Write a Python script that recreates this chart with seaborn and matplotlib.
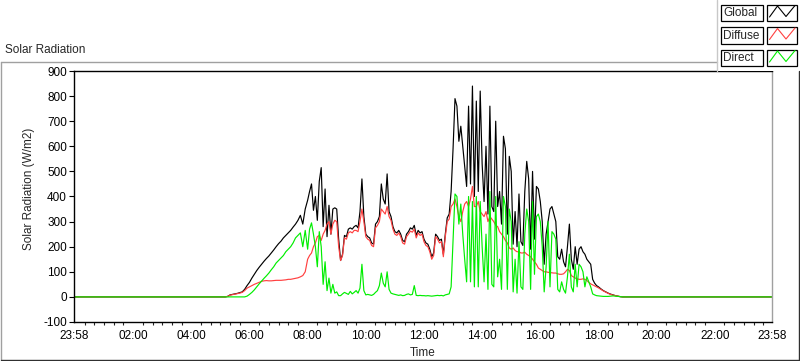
import numpy as np
import pandas as pd
import matplotlib
matplotlib.use('Agg')
import matplotlib.pyplot as plt
from matplotlib.patches import Rectangle
from matplotlib.lines import Line2D
import seaborn as sns

# time grid (minutes of day): 5-min in the morning, 4-min over the day, 5-min in the evening
t_morning = list(range(300, 480, 5))      # 05:00 .. 07:55
t_day = list(range(480, 1080, 4))         # 08:00 .. 17:56
t_evening = list(range(1080, 1141, 5))    # 18:00 .. 19:00

global_morning = [0, 0, 0, 2, 8, 10, 12, 14, 17, 20, 30, 45,
                  58, 75, 90, 105, 118, 130, 142, 153, 163, 175, 187, 200,
                  212, 222, 235, 245, 255, 265, 278, 290, 305, 325, 290, 350]
diffuse_morning = [0, 0, 0, 2, 7, 9, 11, 13, 15, 18, 25, 35,
                   40, 45, 50, 54, 58, 62, 64, 65, 64, 64, 65, 66,
                   66, 66, 67, 68, 70, 70, 72, 74, 76, 80, 85, 100]
direct_morning = [0, 0, 0, 0, 0, 0, 0, 0, 0, 0, 0, 3,
                  10, 18, 28, 40, 52, 63, 74, 84, 95, 108, 120, 135,
                  145, 155, 165, 180, 190, 200, 215, 235, 245, 255, 200, 265]

global_day = [
    385, 420, 450, 345, 400, 305, 460, 515, 280, 430, 240, 365, 250, 350, 355,   # 08
    350, 230, 145, 170, 245, 240, 270, 275, 270, 280, 285, 275, 340, 470, 320,   # 09
    250, 240, 235, 215, 210, 290, 300, 320, 450, 390, 370, 490, 340, 320, 280,   # 10
    260, 255, 265, 250, 225, 220, 250, 260, 275, 270, 285, 245, 265, 255, 260,   # 11
    230, 215, 210, 190, 160, 175, 250, 240, 225, 230, 170, 250, 315, 330, 420,   # 12
    590, 790, 760, 620, 680, 600, 520, 440, 760, 450, 840, 400, 780, 420, 820,   # 13
    530, 380, 600, 330, 760, 360, 340, 700, 360, 420, 290, 640, 590, 250, 560,   # 14
    500, 210, 340, 200, 410, 220, 205, 420, 540, 470, 190, 500, 230, 440, 430,   # 15
    380, 300, 130, 250, 300, 350, 360, 330, 300, 160, 150, 190, 140, 120, 200,   # 16
    290, 150, 110, 200, 130, 190, 200, 180, 170, 150, 140, 130, 70, 55, 45]      # 17
diffuse_day = [
    150, 165, 175, 200, 215, 240, 245, 225, 250, 265, 290, 300, 250, 290, 305,
    300, 200, 145, 165, 235, 230, 255, 260, 255, 265, 265, 260, 300, 350, 300,
    240, 230, 225, 205, 200, 275, 285, 300, 350, 340, 330, 360, 320, 305, 270,
    250, 245, 255, 240, 215, 210, 240, 250, 262, 258, 270, 235, 255, 245, 250,
    220, 205, 200, 180, 150, 165, 240, 230, 215, 220, 160, 240, 300, 310, 360,
    370, 390, 360, 320, 300, 340, 370, 380, 360, 390, 440, 360, 360, 380, 340,
    330, 320, 340, 300, 320, 310, 300, 285, 280, 260, 250, 240, 225, 215, 195,
    190, 195, 185, 180, 180, 175, 175, 178, 170, 165, 160, 150, 140, 130, 115,
    110, 105, 100, 100, 98, 97, 96, 95, 95, 92, 90, 90, 92, 100, 110,
    105, 85, 80, 75, 72, 70, 70, 72, 70, 65, 58, 52, 48, 44, 40]
direct_day = [
    190, 270, 295, 250, 200, 120, 260, 200, 50, 140, 25, 75, 15, 50, 15,
    20, 5, 5, 12, 18, 14, 10, 22, 12, 18, 25, 15, 35, 130, 25,
    8, 10, 8, 6, 10, 18, 25, 45, 95, 55, 40, 100, 30, 15, 12,
    10, 8, 6, 8, 5, 6, 10, 12, 8, 10, 45, 6, 5, 6, 5,
    5, 4, 5, 4, 3, 4, 5, 6, 5, 6, 4, 8, 10, 12, 40,
    220, 410, 400, 290, 370, 250, 150, 60, 400, 60, 380, 40, 400, 40, 380,
    200, 60, 250, 30, 420, 50, 40, 400, 80, 150, 30, 400, 360, 30, 350,
    300, 20, 150, 15, 220, 40, 30, 250, 350, 300, 30, 380, 90, 320, 330,
    300, 200, 20, 120, 300, 40, 260, 250, 230, 30, 20, 60, 30, 15, 80,
    170, 40, 20, 130, 40, 130, 120, 100, 40, 80, 60, 40, 12, 8, 5]

global_evening = [40, 32, 25, 20, 15, 11, 8, 5, 3, 1, 0, 0, 0]
diffuse_evening = [36, 30, 24, 19, 14, 10, 7, 5, 3, 1, 0, 0, 0]
direct_evening = [4, 3, 2, 2, 2, 3, 4, 3, 2, 1, 0, 0, 0]

series_names = ['Global', 'Diffuse', 'Direct']
series_colors = ['#000000', '#ff4040', '#00ee00']

x_ticks = [-2, 120, 240, 360, 480, 600, 720, 840, 960, 1080, 1200, 1320, 1438]
x_tick_labels = ['23:58', '02:00', '04:00', '06:00', '08:00', '10:00', '12:00',
                 '14:00', '16:00', '18:00', '20:00', '22:00', '23:58']
y_ticks = [-100, 0, 100, 200, 300, 400, 500, 600, 700, 800, 900]

# night is zero from 23:58 to 23:58
minutes = [-2] + t_morning + t_day + t_evening + [1438]
values = {
    'Global': [0] + global_morning + global_day + global_evening + [0],
    'Diffuse': [0] + diffuse_morning + diffuse_day + diffuse_evening + [0],
    'Direct': [0] + direct_morning + direct_day + direct_evening + [0],
}
df = pd.concat([pd.DataFrame({'minute': minutes, 'value': values[s], 'series': s})
                for s in series_names], ignore_index=True)

sns.set_style('white')
plt.rcParams['font.family'] = ['Liberation Sans', 'DejaVu Sans']
plt.rcParams['font.size'] = 8

W, H = 800, 361
fig = plt.figure(figsize=(W / 100, H / 100), dpi=100)
ax = fig.add_axes([74 / W, 1 - 322 / H, 698 / W, 251 / H], zorder=1)

sns.lineplot(data=df, x='minute', y='value', hue='series', hue_order=series_names,
             palette=series_colors, linewidth=0.85, legend=False, errorbar=None,
             sort=False, ax=ax)

ax.set_xlim(-2, 1438)
ax.set_ylim(-100, 900)
ax.set_xticks(x_ticks)
ax.set_xticklabels(x_tick_labels)
minor = [m for m in range(20, 1438, 20) if m % 120 != 0]
ax.set_xticks(minor, minor=True)
ax.set_yticks(y_ticks)
ax.set_yticklabels([str(v) for v in y_ticks])
ax.tick_params(axis='x', which='major', direction='out', length=4, width=0.8,
               pad=2, labelsize=8.5, colors='black')
ax.tick_params(axis='x', which='minor', direction='out', length=2.5, width=0.8,
               bottom=True)
ax.tick_params(axis='y', direction='out', length=3.5, width=0.8, pad=1.5,
               labelsize=8.5, colors='black', left=True)
for side in ['left', 'bottom', 'top']:
    ax.spines[side].set_color('black')
    ax.spines[side].set_linewidth(1.0)
ax.spines['right'].set_color('#a0a0a0')
ax.spines['right'].set_linewidth(1.0)
ax.grid(False)

ax.set_xlabel('Time', fontsize=8.5)
ax.xaxis.set_label_coords(0.5, -0.098)
ax.set_ylabel('Solar Radiation (W/m2)', fontsize=8.5)
ax.yaxis.set_label_coords(-0.056, 0.53)

# overlay in pixel coordinates for the frame, title and legend panel
ov = fig.add_axes([0, 0, 1, 1], zorder=5)
ov.set_xlim(0, W)
ov.set_ylim(H, 0)
ov.axis('off')
ov.patch.set_alpha(0)

ov.add_line(Line2D([0.5, 717], [61.5, 61.5], color='#a0a0a0', lw=1.0))
ov.add_line(Line2D([0.5, 0.5], [61.5, 360], color='#a0a0a0', lw=1.0))
ov.add_line(Line2D([0.5, 799.5], [360, 360], color='#303030', lw=1.0))
ov.add_line(Line2D([799, 799], [71, 360], color='#303030', lw=1.0))
ov.text(5, 50, 'Solar Radiation', ha='left', va='center', fontsize=8.5)

ov.add_patch(Rectangle((717, 0), 83, 70.5, facecolor='white', edgecolor='none'))
ov.add_line(Line2D([717, 717], [0, 70.5], color='#c8c8c8', lw=1.0))
row_tops = [4.5, 27, 49.5]
box_h = 16.5
for name, col, top in zip(series_names, series_colors, row_tops):
    ov.add_patch(Rectangle((721, top), 42, box_h, facecolor='white',
                           edgecolor='black', lw=0.9))
    ov.text(723.5, top + box_h / 2 + 0.5, name, ha='left', va='center', fontsize=8.5)
    ov.add_patch(Rectangle((767, top), 30, box_h, facecolor='white',
                           edgecolor='black', lw=0.9))
    zx = [769.5, 777.5, 786, 795]
    zy = [top + 12.5, top + 1.5, top + 12, top + 1]
    ov.add_line(Line2D(zx, zy, color=col, lw=0.8))

fig.savefig('out.png', dpi=100)
